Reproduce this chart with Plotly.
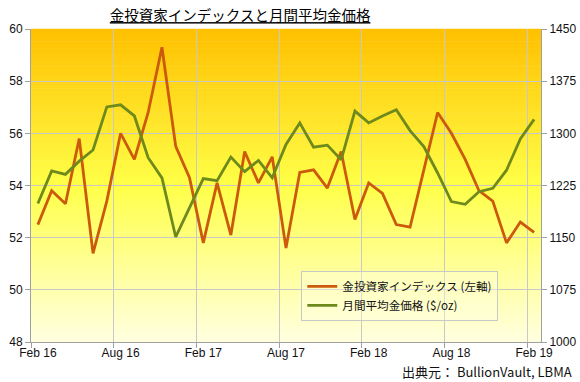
import plotly.graph_objects as go
import pandas as pd

# ---- data ----
months = [d.strftime("%b %y") for d in pd.date_range("2016-02-01", "2019-02-01", freq="MS")]
investor_index = [52.5, 53.8, 53.3, 55.8, 51.4, 53.4, 56.0, 55.0, 56.8, 59.3, 55.5, 54.3,
                  51.8, 54.1, 52.1, 55.3, 54.1, 55.1, 51.6, 54.5, 54.6, 53.9, 55.3, 52.7,
                  54.1, 53.7, 52.5, 52.4, 54.6, 56.8, 56.0, 55.0, 53.8, 53.4, 51.8, 52.6, 52.2]
gold_price = [1199, 1246, 1241, 1260, 1276, 1338, 1341, 1325, 1265, 1236, 1151, 1193,
              1235, 1232, 1266, 1245, 1261, 1236, 1284, 1315, 1280, 1283, 1262, 1332,
              1315, 1325, 1334, 1304, 1281, 1243, 1202, 1198, 1216, 1221, 1247, 1292, 1320]
left_ticks = [48, 50, 52, 54, 56, 58, 60]
right_ticks = [1000, 1075, 1150, 1225, 1300, 1375, 1450]

title_text = "金投資家インデックスと月間平均金価格"
name_index = "金投資家インデックス (左軸)"
name_gold = "月間平均金価格 ($/oz)"
source_text = "出典元： BullionVault, LBMA"

FONT = "Liberation Sans, Arial, Noto Sans CJK JP, sans-serif"
CJK = "Noto Sans CJK JP, Liberation Sans, sans-serif"

fig = go.Figure()
fig.add_trace(go.Scatter(x=months, y=investor_index, name=name_index, mode="lines",
                         line=dict(color="#CC5A0C", width=2.8), yaxis="y"))
fig.add_trace(go.Scatter(x=months, y=gold_price, name=name_gold, mode="lines",
                         line=dict(color="#6E8A1C", width=2.8), yaxis="y2"))

# gradient background for plot area
def lerp(a, b, t):
    return tuple(int(round(a[i] + (b[i] - a[i]) * t)) for i in range(3))

stops = [(0.0, (255, 192, 0)), (0.5, (255, 255, 72)), (1.0, (255, 255, 224))]
N = 100
shapes = []
for k in range(N):
    t = (k + 0.5) / N  # from top
    for j in range(len(stops) - 1):
        if stops[j][0] <= t <= stops[j + 1][0]:
            c = lerp(stops[j][1], stops[j + 1][1], (t - stops[j][0]) / (stops[j + 1][0] - stops[j][0]))
            break
    y1 = 1 - k / N
    y0 = 1 - (k + 1) / N
    shapes.append(dict(type="rect", xref="paper", yref="paper", x0=0, x1=1, y0=y0 - 0.001, y1=y1 + 0.001,
                       fillcolor="rgb(%d,%d,%d)" % c, line=dict(width=0), layer="below"))

fig.update_layout(
    width=580, height=382,
    margin=dict(l=31, r=39, t=29, b=40),
    paper_bgcolor="white",
    plot_bgcolor="rgba(0,0,0,0)",
    shapes=shapes,
    font=dict(family=FONT, size=12, color="#111"),
    title=dict(text="<u>" + title_text + "</u>", x=0.414, xanchor="center", y=0.958, yanchor="middle",
               font=dict(family=CJK, size=14.5, color="#000")),
    xaxis=dict(type="category", range=[-0.5, 36.5], tickson="boundaries", dtick=6, tick0=0,
               tickangle=0, automargin=False,
               showgrid=True, gridcolor="#C8C8C8", gridwidth=1,
               showline=True, linecolor="#A0A0A0", linewidth=1,
               ticks="outside", ticklen=5, tickcolor="#A0A0A0",
               tickfont=dict(size=12, color="#111")),
    yaxis=dict(range=[48, 60], tickvals=left_ticks, showgrid=True, gridcolor="#C8C8C8", gridwidth=1,
               showline=True, linecolor="#A0A0A0", linewidth=1, zeroline=False, automargin=False,
               ticks="outside", ticklen=5, tickcolor="#A0A0A0",
               tickfont=dict(size=12, color="#111")),
    yaxis2=dict(range=[1000, 1450], tickvals=right_ticks, overlaying="y", side="right",
                showgrid=False, showline=True, linecolor="#A0A0A0", linewidth=1, zeroline=False,
                automargin=False,
                ticks="outside", ticklen=5, tickcolor="#A0A0A0",
                tickfont=dict(size=12, color="#111")),
    legend=dict(x=0.53, y=0.227, xanchor="left", yanchor="top",
                bgcolor="rgba(255,255,235,0.35)", bordercolor="#C8C8C8", borderwidth=1,
                font=dict(family=CJK, size=11.6, color="#111"), tracegroupgap=0,
                itemwidth=30),
    showlegend=True,
    annotations=[dict(text=source_text, xref="paper", yref="paper", x=1.065, y=-0.095,
                      xanchor="right", yanchor="middle", showarrow=False,
                      font=dict(family=CJK, size=13, color="#111"))],
)

fig.write_html("out.html", config={"displayModeBar": False},
               post_script="document.body.style.margin='0';document.body.style.overflow='hidden';")
